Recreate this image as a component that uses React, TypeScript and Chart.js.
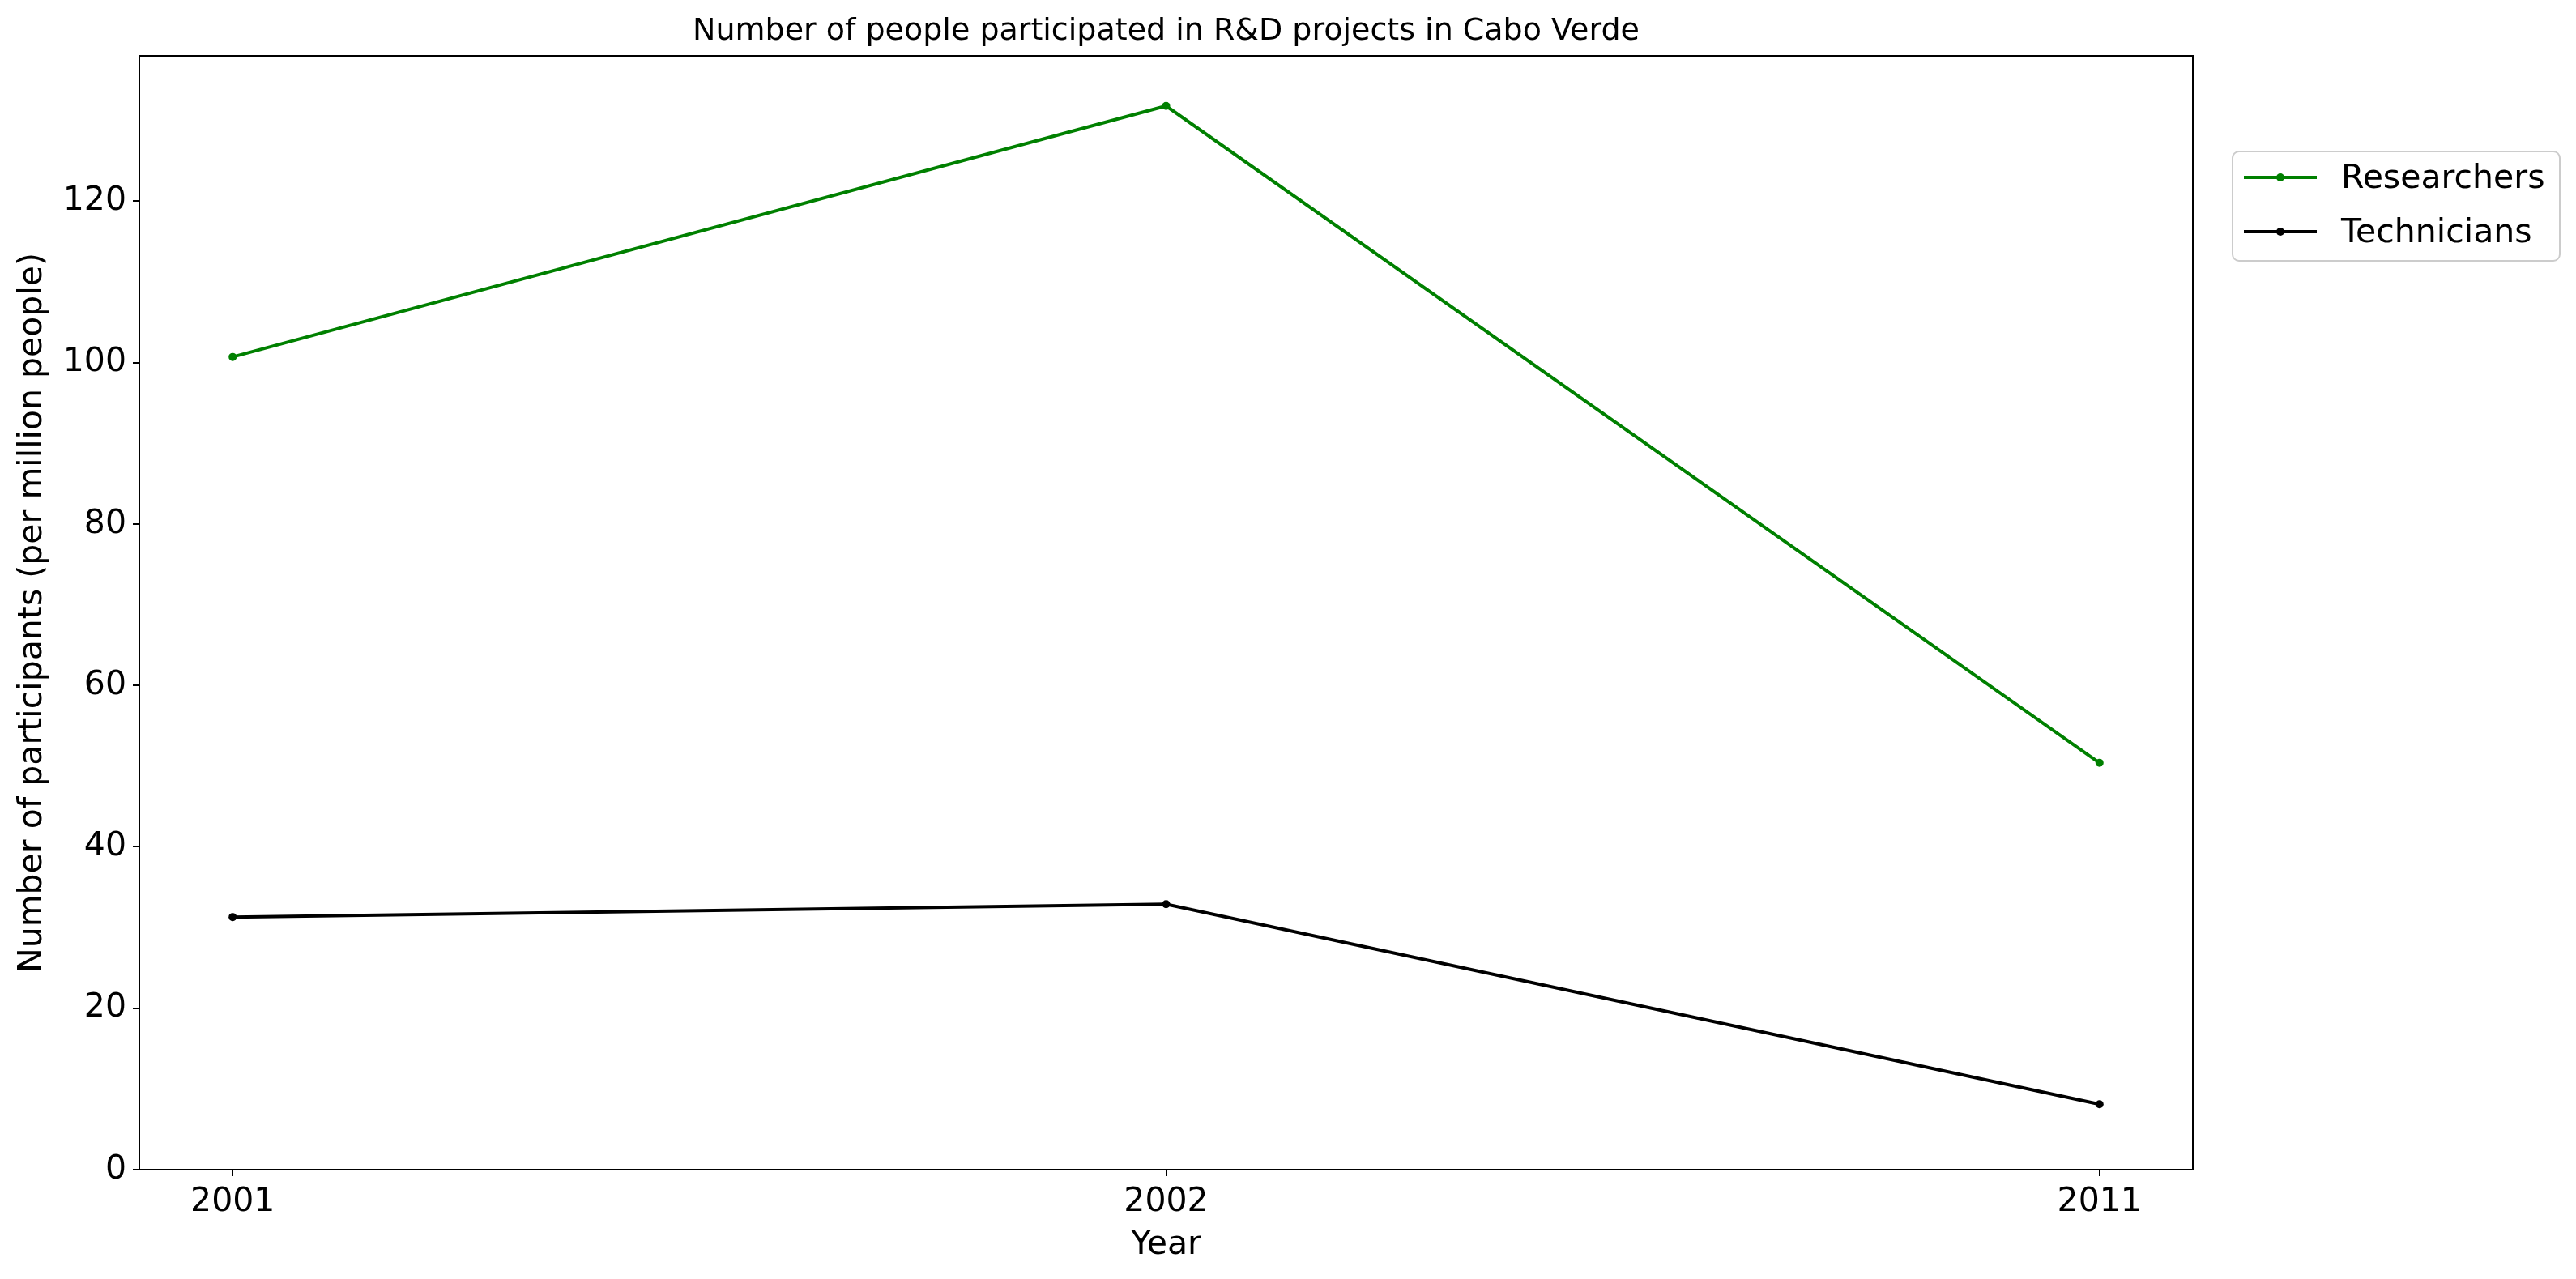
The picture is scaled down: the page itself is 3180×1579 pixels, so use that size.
import React, { useEffect, useRef } from "react";
import { Chart, registerables, Plugin } from "chart.js";

Chart.register(...registerables);

const years = ["2001", "2002", "2011"];
const researchers = [100.7, 131.8, 50.4];
const technicians = [31.3, 32.9, 8.1];
const yTicks = [0, 20, 40, 60, 80, 100, 120];

const W = 3180;
const H = 1579;
const FONT = "'DejaVu Sans', sans-serif";

const decorPlugin: Plugin<"line"> = {
  id: "decor",
  afterDraw(chart) {
    const { ctx, chartArea } = chart;
    const { left, right, top, bottom } = chartArea;
    ctx.save();
    // frame
    ctx.strokeStyle = "#000";
    ctx.lineWidth = 2;
    ctx.strokeRect(left, top, right - left, bottom - top);
    // title
    ctx.fillStyle = "#000";
    ctx.textAlign = "center";
    ctx.textBaseline = "middle";
    ctx.font = `38px ${FONT}`;
    ctx.fillText("Number of people participated in R&D projects in Cabo Verde", (left + right) / 2, 39);
    // axis titles
    ctx.font = `41px ${FONT}`;
    ctx.fillText("Year", (left + right) / 2, 1537);
    ctx.translate(40, (top + bottom) / 2);
    ctx.rotate(-Math.PI / 2);
    ctx.fillText("Number of participants (per million people)", 0, 0);
    ctx.restore();

    // legend
    ctx.save();
    const bx = 2756, by = 187, bw = 404, bh = 135;
    ctx.strokeStyle = "#cccccc";
    ctx.lineWidth = 2;
    ctx.fillStyle = "rgba(255,255,255,0.8)";
    ctx.beginPath();
    ctx.roundRect(bx, by, bw, bh, 8);
    ctx.fill();
    ctx.stroke();
    const items = [
      { label: "Researchers", color: "#008000", y: 219 },
      { label: "Technicians", color: "#000000", y: 286 },
    ];
    ctx.font = `41px ${FONT}`;
    ctx.textAlign = "left";
    ctx.textBaseline = "middle";
    for (const it of items) {
      ctx.strokeStyle = it.color;
      ctx.lineWidth = 4;
      ctx.beginPath();
      ctx.moveTo(2770, it.y);
      ctx.lineTo(2860, it.y);
      ctx.stroke();
      ctx.fillStyle = it.color;
      ctx.beginPath();
      ctx.arc(2815, it.y, 5, 0, Math.PI * 2);
      ctx.fill();
      ctx.fillStyle = "#000";
      ctx.fillText(it.label, 2890, it.y + 2);
    }
    ctx.restore();
  },
};

export default function App() {
  const canvasRef = useRef<HTMLCanvasElement | null>(null);

  useEffect(() => {
    document.body.style.margin = "0";
    const ctx = canvasRef.current?.getContext("2d");
    if (!ctx) return;
    const chart = new Chart(ctx, {
      type: "line",
      data: {
        datasets: [
          {
            label: "Researchers",
            data: researchers.map((v, i) => ({ x: i, y: v })),
            borderColor: "#008000",
            backgroundColor: "#008000",
            borderWidth: 4,
            pointRadius: 5,
            pointBorderWidth: 0,
          },
          {
            label: "Technicians",
            data: technicians.map((v, i) => ({ x: i, y: v })),
            borderColor: "#000000",
            backgroundColor: "#000000",
            borderWidth: 4,
            pointRadius: 5,
            pointBorderWidth: 0,
          },
        ],
      },
      options: {
        responsive: false,
        devicePixelRatio: 1,
        animation: false,
        layout: { padding: { left: 0, right: W - 2707, top: 69, bottom: 0 } },
        plugins: { legend: { display: false }, tooltip: { enabled: false }, title: { display: false } },
        scales: {
          x: {
            type: "linear",
            min: -0.1,
            max: 2.1,
            afterFit: (s: any) => { s.height = H - 1444; },
            afterBuildTicks: (s: any) => { s.ticks = years.map((_, i) => ({ value: i })); },
            ticks: {
              callback: (v: any) => years[v as number] ?? "",
              color: "#000",
              font: { family: FONT, size: 41 },
              padding: 8,
              maxRotation: 0,
            },
            grid: { drawOnChartArea: false, drawTicks: true, tickLength: 8, color: "#000", lineWidth: 2 },
            border: { display: false },
          },
          y: {
            min: 0,
            max: 138,
            afterFit: (s: any) => { s.width = 172; },
            afterBuildTicks: (s: any) => { s.ticks = yTicks.map((v) => ({ value: v })); },
            ticks: {
              color: "#000",
              font: { family: FONT, size: 41 },
              padding: 8,
            },
            grid: { drawOnChartArea: false, drawTicks: true, tickLength: 8, color: "#000", lineWidth: 2 },
            border: { display: false },
          },
        },
      },
      plugins: [decorPlugin],
    });
    return () => chart.destroy();
  }, []);

  return (
    <div style={{ width: W, height: H, background: "#fff" }}>
      <canvas ref={canvasRef} width={W} height={H} />
    </div>
  );
}
